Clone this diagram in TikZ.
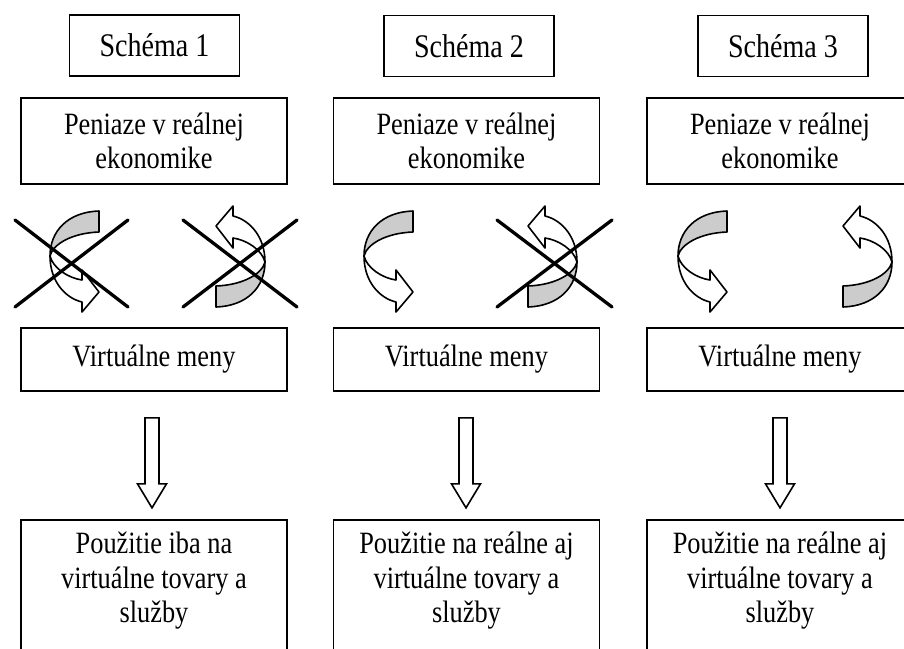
\documentclass[tikz,border=0pt]{standalone}
\usepackage{fontspec}
\setmainfont{Liberation Serif}[FakeStretch=0.85]
\usetikzlibrary{calc}
\definecolor{bandgray}{RGB}{204,204,204}
\tikzset{
  box/.style={draw, line width=1.7pt, inner sep=0pt, minimum width=266pt},
  titlebox/.style={draw, line width=1.7pt, inner sep=0pt, minimum width=170pt, minimum height=61pt,
    font=\fontsize{33}{36}\selectfont},
  txt/.style={font=\fontsize{31}{34.5}\selectfont, align=center},
  arrline/.style={line width=1.6pt, line join=round},
  blockarr/.style={draw, fill=white, line width=1.6pt, line join=miter},
  crossline/.style={line width=3.3pt, line cap=round},
  uturn/.pic={
    \draw[arrline, fill=bandgray] (0,0) .. controls (0,-25) and (18,-44) .. (49,-45)
      -- (49,-24) .. controls (22,-23) and (3,-12) .. (0,0) -- cycle;
    \draw[arrline, fill=white] (0,0) .. controls (3,12) and (18,22) .. (32,24)
      -- (32,14) -- (49,36) -- (32,56) -- (32,46)
      .. controls (15,42) and (0,25) .. (0,0) -- cycle;
  }
}
\begin{document}
\begin{tikzpicture}[x=1pt,y=-1pt]
\useasboundingbox (0,0) rectangle (904,648);
\clip (0,0) rectangle (904,648);

% title boxes
\node[titlebox] (s1) at (154.5,45.5) {Schéma 1};
\node[titlebox] (s2) at (469,46) {Schéma 2};
\node[titlebox] (s3) at (783,46) {Schéma 3};

% real economy boxes
\node[box, minimum height=86pt, txt] (p1) at (154,141) {Peniaze v reálnej\\ekonomike};
\node[box, minimum height=86pt, txt] (p2) at (466.5,141) {Peniaze v reálnej\\ekonomike};
\node[box, minimum height=86pt, txt] (p3) at (780,141) {Peniaze v reálnej\\ekonomike};

% virtual currency boxes
\node[box, minimum height=63pt, txt] (v1) at (154,359.5) {Virtuálne meny};
\node[box, minimum height=63pt, txt] (v2) at (466.5,359.5) {Virtuálne meny};
\node[box, minimum height=63pt, txt] (v3) at (780,359.5) {Virtuálne meny};

% usage boxes (cut by the bottom edge)
\node[box, minimum height=160pt] (b1) at (154,600) {};
\node[box, minimum height=160pt] (b2) at (466.5,600) {};
\node[box, minimum height=160pt] (b3) at (780,600) {};
\node[txt, anchor=north, inner sep=0pt] (b1t) at ($(b1.north)+(0,13)$) {Použitie iba na\\virtuálne tovary a\\služby};
\node[txt, anchor=north, inner sep=0pt] (b2t) at ($(b2.north)+(0,13)$) {Použitie na reálne aj\\virtuálne tovary a\\služby};
\node[txt, anchor=north, inner sep=0pt] (b3t) at ($(b3.north)+(0,13)$) {Použitie na reálne aj\\virtuálne tovary a\\služby};

% block arrows between virtual and usage boxes
\coordinate (a1) at ($(v1.south)+(-2,26)$);
\coordinate (a2) at ($(v2.south)+(-0.5,26)$);
\coordinate (a3) at ($(v3.south)+(0,26)$);
\foreach \c in {a1,a2,a3}{
  \draw[blockarr] (\c) ++(-7,0) -- ++(14,0) -- ++(0,66) -- ++(7.5,0)
    -- ++(-14.5,24) -- ++(-14.5,-24) -- ++(7.5,0) -- cycle;
}

% curved arrows
\pic (l1) at (50,256) {uturn};
\pic (l2) at (364,256) {uturn};
\pic (l3) at (678,256) {uturn};
\pic[rotate=180] (r1) at (265,262) {uturn};
\pic[rotate=180] (r2) at (577,262) {uturn};
\pic[rotate=180] (r3) at (892,262) {uturn};

% crosses
\draw[crossline] (15,220) -- (128,307);
\draw[crossline] (15,307) -- (128,220);
\draw[crossline] (183,220) -- (297,307);
\draw[crossline] (183,307) -- (297,220);
\draw[crossline] (497,220) -- (612,307);
\draw[crossline] (497,307) -- (612,220);
\end{tikzpicture}
\end{document}
